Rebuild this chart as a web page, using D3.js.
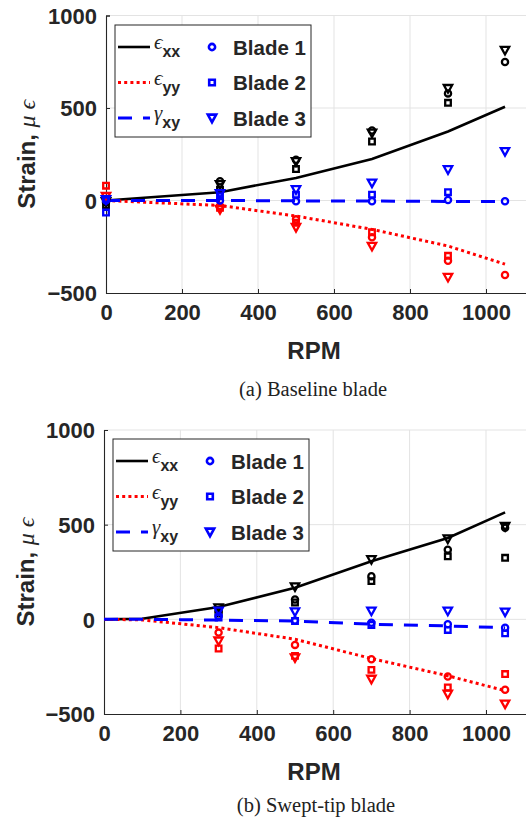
<!DOCTYPE html>
<html>
<head>
<meta charset="utf-8">
<script src="https://cdn.jsdelivr.net/npm/d3@7/dist/d3.min.js"></script>
<style>
  html, body { margin: 0; padding: 0; background: #fff; }
  svg { display: block; }
</style>
</head>
<body>
<svg id="fig" width="526" height="822"></svg>
<script>
// ---------- data ----------
const xTicks = [0, 200, 400, 600, 800, 1000];
const yTicks = [-500, 0, 500, 1000];

// (a) Baseline blade
const baseRpm = [0, 300, 500, 700, 900, 1050];
const baseModelExx = [0, 45, 122, 224, 373, 507];
const baseModelEyy = [0, -27, -84, -156, -246, -344];
const baseModelGxy = [0, 0, -2, -3, -5, -6];
const baseExxB1 = [-10, 104, 220, 378, 579, 749];
const baseExxB2 = [-25, 59, 170, 319, 528, null];
const baseExxB3 = [-5, 86, 211, 365, 606, 812];
const baseEyyB1 = [10, -30, -102, -199, -326, -403];
const baseEyyB2 = [80, -40, -120, -172, -299, null];
const baseEyyB3 = [23, -48, -145, -247, -415, null];
const baseGxyB1 = [0, 0, -4, -4, 3, -4];
const baseGxyB2 = [-65, 23, 32, 32, 45, null];
const baseGxyB3 = [5, 37, 59, 95, 167, 265];

// (b) Swept-tip blade
const sweptModelRpm = [0, 100, 300, 500, 700, 900, 1050];
const sweptModelExx = [0, 3, 65, 167, 307, 430, 565];
const sweptModelEyy = [0, -3, -44, -105, -207, -298, -377];
const sweptModelGxy = [0, 0, -4, -9, -26, -35, -44];
const sweptRpm = [300, 500, 700, 900, 1050];
const sweptExxB1 = [40, 105, 228, 368, 484];
const sweptExxB2 = [30, 89, 202, 333, 325];
const sweptExxB3 = [61, 172, 316, 425, 491];
const sweptEyyB1 = [-70, -135, -211, -302, -372];
const sweptEyyB2 = [-154, -193, -267, -360, -289];
const sweptEyyB3 = [-114, -203, -316, -395, -447];
const sweptGxyB1 = [18, -6, -18, -26, -44];
const sweptGxyB2 = [9, -9, -30, -56, -74];
const sweptGxyB3 = [44, 40, 44, 44, 39];

// ---------- styles ----------
const COL = { exx: "#000000", eyy: "#ff0000", gxy: "#0000ff" };
const LINE_STYLE = {
  exx: { width: 2.6, dash: null },
  eyy: { width: 3, dash: "3,3.2" },
  gxy: { width: 3, dash: "14,11" }
};
const SANS = "'Liberation Sans', Arial, sans-serif";
const SERIF = "'Liberation Serif', 'Times New Roman', serif";

const svg = d3.select("#fig");

// marker shapes, centred on the origin
function markerPath(kind) {
  if (kind === "circle") {
    const r = 3.1;
    return `M${-r},0A${r},${r} 0 1,0 ${r},0A${r},${r} 0 1,0 ${-r},0Z`;
  }
  if (kind === "square") {
    const h = 2.8;
    return `M${-h},${-h}H${h}V${h}H${-h}Z`;
  }
  // downward triangle
  const w = 4.2, t = -3.4, b = 4.2;
  return `M${-w},${t}H${w}L0,${b}Z`;
}

function drawPanel(cfg) {
  const g = svg.append("g");
  const x = d3.scaleLinear().domain([0, 1100]).range([cfg.left, cfg.left + 1100 * cfg.xPer]);
  const y = d3.scaleLinear().domain([-500, 1000]).range([cfg.bottom, cfg.top]);

  // grid
  g.append("g").selectAll("line").data(xTicks.filter(d => d > 0)).join("line")
    .attr("x1", d => x(d)).attr("x2", d => x(d))
    .attr("y1", y(-500)).attr("y2", y(1000))
    .attr("stroke", "#e3e3e3").attr("stroke-width", 1);
  g.append("g").selectAll("line").data(yTicks.filter(d => d > -500)).join("line")
    .attr("x1", x(0)).attr("x2", 526)
    .attr("y1", d => y(d)).attr("y2", d => y(d))
    .attr("stroke", "#e3e3e3").attr("stroke-width", 1);

  // axes (ticks pointing inward)
  const xAxis = d3.axisBottom(x).tickValues(xTicks).tickSize(-4).tickPadding(10).tickFormat(d3.format("d"));
  const yAxis = d3.axisLeft(y).tickValues(yTicks).tickSize(-4).tickPadding(9).tickFormat(d3.format("d"));
  const gx = g.append("g").attr("transform", `translate(0,${y(-500)})`).call(xAxis);
  const gy = g.append("g").attr("transform", `translate(${x(0)},0)`).call(yAxis);
  [gx, gy].forEach(a => {
    a.select(".domain").attr("stroke", "#262626").attr("stroke-width", 1.1);
    a.selectAll(".tick line").attr("stroke", "#262626");
    a.selectAll(".tick text").attr("fill", "#262626")
      .style("font-family", SANS).style("font-weight", "bold").style("font-size", "22px");
  });
  gx.select(".domain").attr("d", `M${x(0)},0.5H526`);
  gx.selectAll(".tick text").attr("dy", "0.78em");
  gy.selectAll(".tick text").attr("dy", "0.36em");

  // axis titles
  g.append("text").attr("x", cfg.xTitleX).attr("y", cfg.xTitleY)
    .attr("text-anchor", "middle").attr("fill", "#262626")
    .style("font-family", SANS).style("font-weight", "bold").style("font-size", "24px")
    .text("RPM");
  const yt = g.append("text")
    .attr("transform", `translate(${cfg.yTitleX},${(y(-500) + y(1000)) / 2}) rotate(-90)`)
    .attr("text-anchor", "middle").attr("fill", "#262626")
    .style("font-size", "24px");
  yt.append("tspan").style("font-family", SANS).style("font-weight", "bold").text("Strain, ");
  yt.append("tspan").style("font-family", SERIF).style("font-style", "italic").text("\u03BC \u03F5");

  // model curves
  const line = d3.line().x(d => x(d[0])).y(d => y(d[1]));
  cfg.models.forEach(m => {
    g.append("path").datum(d3.zip(cfg.modelRpm, m.values))
      .attr("d", line).attr("fill", "none")
      .attr("stroke", COL[m.key]).attr("stroke-width", LINE_STYLE[m.key].width)
      .attr("stroke-dasharray", LINE_STYLE[m.key].dash);
  });

  // measured points
  cfg.points.forEach(p => {
    const pts = d3.zip(cfg.rpm, p.values).filter(d => d[1] !== null);
    g.append("g").selectAll("path").data(pts).join("path")
      .attr("transform", d => `translate(${x(d[0])},${y(d[1])})`)
      .attr("d", markerPath(p.shape))
      .attr("fill", "none").attr("stroke", COL[p.key]).attr("stroke-width", 2.3);
  });

  // legend
  const L = cfg.legend;
  const lg = g.append("g");
  lg.append("rect").attr("x", L.x).attr("y", L.y).attr("width", 196).attr("height", 112)
    .attr("fill", "#fff").attr("stroke", "#262626").attr("stroke-width", 1);
  const rows = [
    { key: "exx", sym: "\u03F5", sub: "xx", shape: "circle", label: "Blade 1" },
    { key: "eyy", sym: "\u03F5", sub: "yy", shape: "square", label: "Blade 2" },
    { key: "gxy", sym: "\u03B3", sub: "xy", shape: "triangle", label: "Blade 3" }
  ];
  rows.forEach((r, i) => {
    const cy = L.y + 22 + i * 35.5;
    lg.append("line").attr("x1", L.x + 3).attr("x2", L.x + 35)
      .attr("y1", cy).attr("y2", cy)
      .attr("stroke", COL[r.key]).attr("stroke-width", LINE_STYLE[r.key].width)
      .attr("stroke-dasharray", LINE_STYLE[r.key].dash);
    const t = lg.append("text").attr("x", L.x + 39).attr("y", cy + 2).attr("fill", "#262626");
    t.append("tspan").style("font-family", SERIF).style("font-style", "italic").style("font-size", "21px").text(r.sym);
    t.append("tspan").attr("dy", 8).style("font-family", SANS).style("font-weight", "bold").style("font-size", "16px").text(r.sub);
    lg.append("path").attr("transform", `translate(${L.x + 97},${cy})`)
      .attr("d", markerPath(r.shape)).attr("fill", "none")
      .attr("stroke", "#0000ff").attr("stroke-width", 2.6);
    lg.append("text").attr("x", L.x + 118).attr("y", cy + 7.5).attr("fill", "#262626")
      .style("font-family", SANS).style("font-weight", "bold").style("font-size", "20.5px")
      .text(r.label);
  });

  // caption
  g.append("text").attr("x", cfg.capX).attr("y", cfg.capY).attr("text-anchor", "middle")
    .attr("fill", "#222").style("font-family", SERIF).style("font-size", "20.5px")
    .text(cfg.caption);
}

drawPanel({
  left: 106, xPer: 0.38, top: 15.5, bottom: 293,
  xTitleX: 314, xTitleY: 359, yTitleX: 35,
  legend: { x: 115, y: 25 },
  capX: 313, capY: 396, caption: "(a) Baseline blade",
  modelRpm: baseRpm,
  models: [
    { key: "exx", values: baseModelExx },
    { key: "eyy", values: baseModelEyy },
    { key: "gxy", values: baseModelGxy }
  ],
  rpm: baseRpm,
  points: [
    { key: "exx", shape: "circle", values: baseExxB1 },
    { key: "exx", shape: "square", values: baseExxB2 },
    { key: "exx", shape: "triangle", values: baseExxB3 },
    { key: "eyy", shape: "circle", values: baseEyyB1 },
    { key: "eyy", shape: "square", values: baseEyyB2 },
    { key: "eyy", shape: "triangle", values: baseEyyB3 },
    { key: "gxy", shape: "circle", values: baseGxyB1 },
    { key: "gxy", shape: "square", values: baseGxyB2 },
    { key: "gxy", shape: "triangle", values: baseGxyB3 }
  ]
});

drawPanel({
  left: 104, xPer: 0.382, top: 430, bottom: 714,
  xTitleX: 314, xTitleY: 780, yTitleX: 34,
  legend: { x: 113, y: 439 },
  capX: 316, capY: 812, caption: "(b) Swept-tip blade",
  modelRpm: sweptModelRpm,
  models: [
    { key: "exx", values: sweptModelExx },
    { key: "eyy", values: sweptModelEyy },
    { key: "gxy", values: sweptModelGxy }
  ],
  rpm: sweptRpm,
  points: [
    { key: "exx", shape: "circle", values: sweptExxB1 },
    { key: "exx", shape: "square", values: sweptExxB2 },
    { key: "exx", shape: "triangle", values: sweptExxB3 },
    { key: "eyy", shape: "circle", values: sweptEyyB1 },
    { key: "eyy", shape: "square", values: sweptEyyB2 },
    { key: "eyy", shape: "triangle", values: sweptEyyB3 },
    { key: "gxy", shape: "circle", values: sweptGxyB1 },
    { key: "gxy", shape: "square", values: sweptGxyB2 },
    { key: "gxy", shape: "triangle", values: sweptGxyB3 }
  ]
});
</script>
</body>
</html>
